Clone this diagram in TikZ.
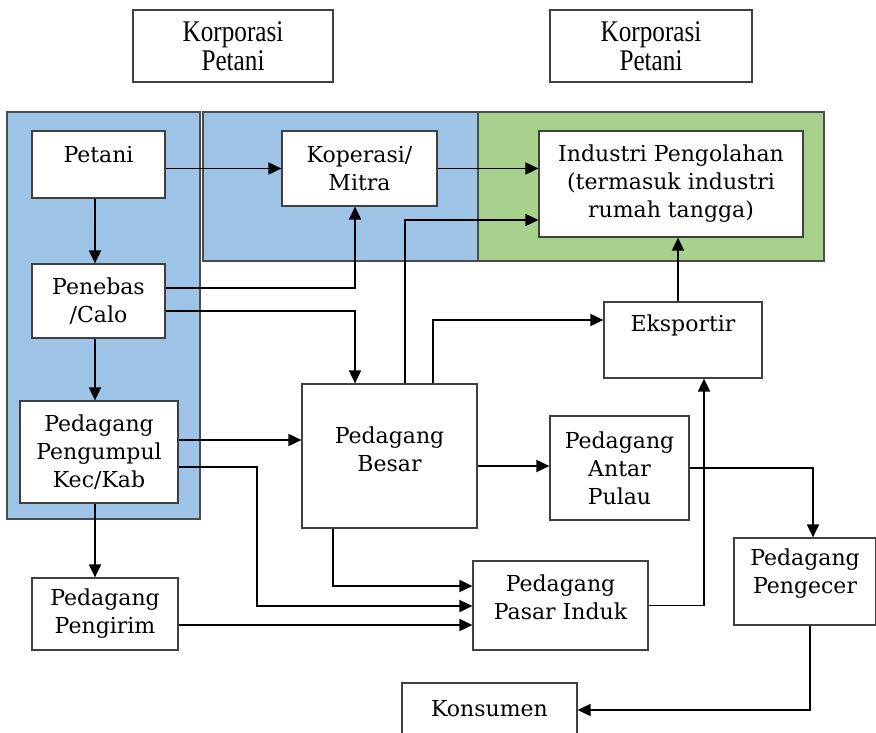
\documentclass[tikz,border=0pt]{standalone}
\usepackage{fontspec}
\setmainfont{DejaVu Serif}
\newfontfamily\korpfont[FakeStretch=0.84]{Liberation Serif}
\usetikzlibrary{arrows.meta}
\definecolor{biru}{RGB}{157,195,230}
\definecolor{hijau}{RGB}{169,209,142}
\begin{document}
\begin{tikzpicture}[x=0.5pt,y=-0.5pt,
  kotak/.style={draw=black!75, fill=white, line width=0.6pt, align=center, inner sep=0pt, font=\fontsize{11}{14}\selectfont},
  ukuran/.style 2 args={minimum width=#1*0.5pt, minimum height=#2*0.5pt},
  panah/.style={-{Triangle[length=6.5pt,width=6pt]}, line width=0.9pt, draw=black},
  panel/.style={draw=black!70, line width=0.6pt}]
\path[use as bounding box, clip] (0,0) rectangle (876,732);
% latar kelompok
\filldraw[panel, fill=biru] (7,112) rectangle (200,519);
\filldraw[panel, fill=biru] (203,112) rectangle (478,261);
\filldraw[panel, fill=hijau] (478,112) rectangle (824,261);
% kotak
\node[kotak, ukuran={200}{72}, font=\korpfont\fontsize{15}{14.5}\selectfont] (korp1) at (233,46) {Korporasi\\Petani};
\node[kotak, ukuran={202}{72}, font=\korpfont\fontsize{15}{14.5}\selectfont] (korp2) at (651,46) {Korporasi\\Petani};
\node[kotak, ukuran={133}{67}, text depth=10pt] (petani) at (98.5,164.5) {Petani};
\node[kotak, ukuran={133}{74}] (penebas) at (98.5,301) {Penebas\\/Calo};
\node[kotak, ukuran={158}{102}] (pengumpul) at (99,452) {Pedagang\\Pengumpul\\Kec/Kab};
\node[kotak, ukuran={146}{72}] (pengirim) at (105,614) {Pedagang\\Pengirim};
\node[kotak, ukuran={155}{75}] (koperasi) at (359.5,168.5) {Koperasi/\\Mitra};
\node[kotak, ukuran={264}{106}] (industri) at (671,184) {Industri Pengolahan\\(termasuk industri\\rumah tangga)};
\node[kotak, ukuran={158}{76}, text depth=17pt] (eksportir) at (683,340) {Eksportir};
\node[kotak, ukuran={175}{144}, text depth=7pt] (besar) at (389.5,456) {Pedagang\\Besar};
\node[kotak, ukuran={139}{104}] (antarpulau) at (619.5,468) {Pedagang\\Antar\\Pulau};
\node[kotak, ukuran={175}{89}, text depth=8pt] (pasarinduk) at (560.5,605.5) {Pedagang\\Pasar Induk};
\node[kotak, ukuran={142}{87}, text depth=10pt] (pengecer) at (805,581.5) {Pedagang\\Pengecer};
\node[kotak, ukuran={175}{64}, text depth=7pt] (konsumen) at (489.5,715) {Konsumen};
% aliran
\draw[panah] (petani.east |- koperasi.west) -- (koperasi.west);
\draw[panah] (koperasi.east) -- (koperasi.east -| industri.west);
\draw[panah] (95,0 |- petani.south) -- (95,0 |- penebas.north);
\draw[panah] (95,0 |- penebas.south) -- (95,0 |- pengumpul.north);
\draw[panah] (95,0 |- pengumpul.south) -- (95,0 |- pengirim.north);
\draw[panah] (penebas.east |- 0,288) -| (koperasi.south -| 355,0);
\draw[panah] (penebas.east |- 0,311) -| (355,0 |- besar.north);
\draw[panah] (405,0 |- besar.north) |- (industri.west |- 0,220);
\draw[panah] (433,0 |- besar.north) |- (eksportir.west |- 0,320);
\draw[panah] (678,0 |- eksportir.north) -- (678,0 |- industri.south);
\draw[panah] (pengumpul.east |- 0,440) -- (besar.west |- 0,440);
\draw[panah] (pengumpul.east |- 0,467) -| (257,606) -- (pasarinduk.west |- 0,606);
\draw[panah] (333,0 |- besar.south) |- (pasarinduk.west |- 0,586);
\draw[panah] (pengirim.east |- 0,625) -- (pasarinduk.west |- 0,625);
\draw[panah] (besar.east |- 0,466) -- (antarpulau.west |- 0,466);
\draw[panah] (antarpulau.east) -| (813,0 |- pengecer.north);
\draw[panah] (pasarinduk.east) -| (704,0 |- eksportir.south);
\draw[panah] (810,0 |- pengecer.south) |- (konsumen.east |- 0,710);
\end{tikzpicture}
\end{document}
